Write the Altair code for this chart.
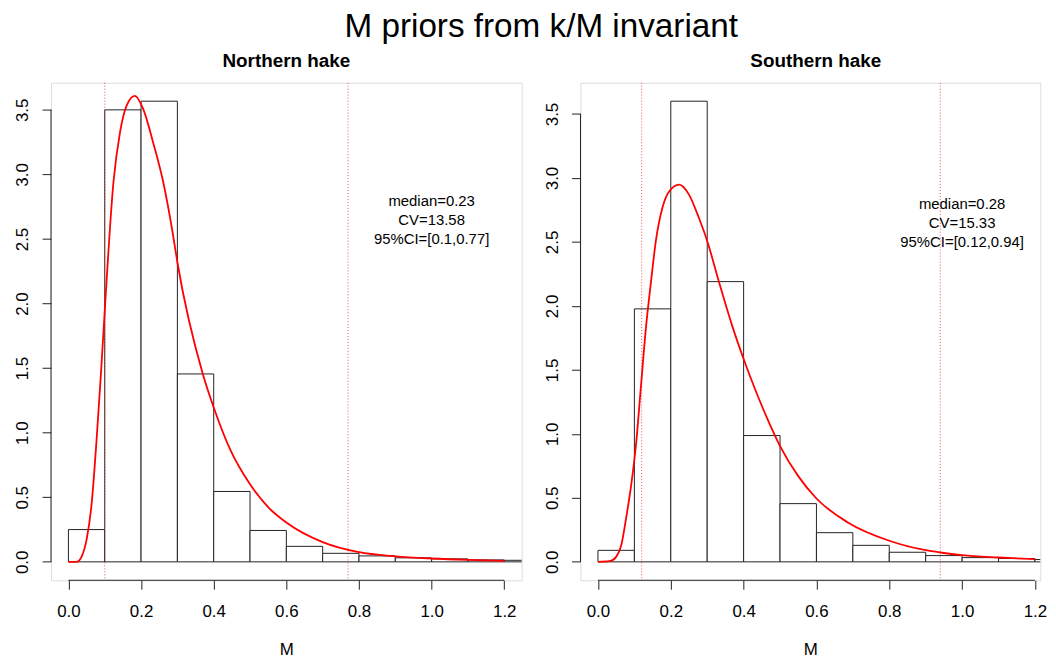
import altair as alt
import pandas as pd

# ---------------- data ----------------
bin_lo = [0.0, 0.1, 0.2, 0.3, 0.4, 0.5, 0.6, 0.7, 0.8, 0.9, 1.0, 1.1, 1.2]
bin_hi = [0.1, 0.2, 0.3, 0.4, 0.5, 0.6, 0.7, 0.8, 0.9, 1.0, 1.1, 1.2, 1.3]

north_density = [0.25, 3.50, 3.567, 1.455, 0.545, 0.243, 0.12, 0.066, 0.046, 0.031, 0.023, 0.015, 0.012]
south_density = [0.09, 1.977, 3.60, 2.19, 0.987, 0.455, 0.228, 0.129, 0.075, 0.049, 0.033, 0.026, 0.018]

north_curve_x = [0.0, 0.023, 0.037, 0.050, 0.064, 0.078, 0.090, 0.101, 0.124, 0.142, 0.160, 0.183,
                 0.206, 0.233, 0.261, 0.288, 0.300, 0.370, 0.402, 0.444, 0.500, 0.553, 0.600,
                 0.700, 0.800, 0.900, 1.0, 1.1, 1.2]
north_curve_y = [0.0, 0.0, 0.044, 0.172, 0.454, 0.967, 1.479, 1.992, 2.941, 3.326, 3.531, 3.608,
                 3.505, 3.249, 2.941, 2.531, 2.32, 1.455, 1.18, 0.878, 0.60, 0.415, 0.305,
                 0.153, 0.075, 0.043, 0.026, 0.015, 0.008]

south_curve_x = [0.0, 0.032, 0.050, 0.064, 0.077, 0.091, 0.105, 0.118, 0.132, 0.146, 0.159, 0.177,
                 0.196, 0.223, 0.250, 0.277, 0.300, 0.332, 0.368, 0.400, 0.432, 0.468, 0.500,
                 0.55, 0.60, 0.685, 0.80, 0.90, 0.94, 1.0, 1.1, 1.2]
south_curve_y = [0.0, 0.005, 0.039, 0.129, 0.336, 0.595, 0.931, 1.371, 1.836, 2.198, 2.508, 2.767,
                 2.896, 2.948, 2.870, 2.689, 2.508, 2.19, 1.85, 1.585, 1.345, 1.10, 0.905,
                 0.67, 0.495, 0.31, 0.165, 0.091, 0.073, 0.052, 0.034, 0.021]

north_ci = [0.1, 0.77]
south_ci = [0.12, 0.94]

north_text = ["median=0.23", "CV=13.58", "95%CI=[0.1,0.77]"]
south_text = ["median=0.28", "CV=15.33", "95%CI=[0.12,0.94]"]
text_x = [1.0, 1.0, 1.0]
text_y = [2.795, 2.648, 2.501]

x_ticks = [0.0, 0.2, 0.4, 0.6, 0.8, 1.0, 1.2]
y_ticks = [0.0, 0.5, 1.0, 1.5, 2.0, 2.5, 3.0, 3.5]

FONT = "Liberation Sans"
LINE = "#222222"


def panel(name, density, cx, cy, ci, texts, width, xmax, title_dx):
    ymax = max(density)
    ydom = [-0.04 * ymax, 1.04 * ymax]
    xdom = [-0.048, xmax]

    xs = alt.Scale(domain=xdom, nice=False, zero=False)
    ys = alt.Scale(domain=ydom, nice=False, zero=False)

    xaxis = alt.Axis(values=x_ticks, format=".1f", domain=False, grid=False,
                     tickSize=9, tickColor=LINE, tickWidth=1,
                     labelFont=FONT, labelFontSize=17, labelColor="black",
                     labelPadding=14, labelBaseline="top", labelFlush=False,
                     labelOverlap=False,
                     title="M", titleFont=FONT, titleFontSize=17,
                     titleFontWeight="normal", titleColor="black",
                     titleBaseline="alphabetic", titleY=75)
    yaxis = alt.Axis(values=y_ticks, format=".1f", domain=False, grid=False,
                     tickSize=9, tickColor=LINE, tickWidth=1,
                     labelFont=FONT, labelFontSize=17, labelColor="black",
                     labelAngle=-90, labelAlign="center", labelBaseline="alphabetic",
                     labelPadding=14.5, labelFlush=False, labelOverlap=False,
                     title="")

    bars_df = pd.DataFrame({"lo": bin_lo, "hi": bin_hi, "d": density,
                            "zero": [0.0] * len(bin_lo)})
    bars = alt.Chart(bars_df).mark_rect(
        fill="white", stroke=LINE, strokeWidth=1, clip=True
    ).encode(
        x=alt.X("lo:Q", scale=xs, axis=xaxis),
        x2="hi:Q",
        y=alt.Y("d:Q", scale=ys, axis=yaxis),
        y2="zero:Q",
    )

    curve_df = pd.DataFrame({"m": cx, "dens": cy})
    curve = alt.Chart(curve_df).mark_line(
        color="red", strokeWidth=1.8, interpolate="monotone", clip=True
    ).encode(x=alt.X("m:Q", scale=xs), y=alt.Y("dens:Q", scale=ys))

    ci_df = pd.DataFrame({"ci": ci})
    ci_rules = alt.Chart(ci_df).mark_rule(
        color="red", strokeWidth=1, strokeDash=[1, 2], opacity=0.7
    ).encode(x=alt.X("ci:Q", scale=xs))

    xline_df = pd.DataFrame({"a": [x_ticks[0]], "b": [x_ticks[-1]], "y": [ydom[0]]})
    xline = alt.Chart(xline_df).mark_rule(color=LINE, strokeWidth=1).encode(
        x=alt.X("a:Q", scale=xs), x2="b:Q", y=alt.Y("y:Q", scale=ys))

    yline_df = pd.DataFrame({"x": [xdom[0]], "a": [y_ticks[0]], "b": [y_ticks[-1]]})
    yline = alt.Chart(yline_df).mark_rule(color=LINE, strokeWidth=1).encode(
        x=alt.X("x:Q", scale=xs), y=alt.Y("a:Q", scale=ys), y2="b:Q")

    txt_df = pd.DataFrame({"tx": text_x, "ty": text_y, "label": texts})
    txt = alt.Chart(txt_df).mark_text(
        font=FONT, fontSize=15, color="black", align="center", baseline="middle"
    ).encode(x=alt.X("tx:Q", scale=xs), y=alt.Y("ty:Q", scale=ys), text="label:N")

    return alt.layer(bars, curve, ci_rules, xline, yline, txt).properties(
        width=width, height=501,
        title=alt.TitleParams(text=name, font=FONT, fontSize=19, fontWeight="bold",
                              color="black", anchor="middle", frame="group",
                              baseline="alphabetic", offset=0, dy=3.8, dx=title_dx),
    )


left = panel("Northern hake", north_density, north_curve_x, north_curve_y,
             north_ci, north_text, 474, 1.248, 0)
right = panel("Southern hake", south_density, south_curve_x, south_curve_y,
              south_ci, south_text, 463, 1.2146, 5.5)

chart = alt.hconcat(left, right, spacing=59.2, bounds="flush").properties(
    title=alt.TitleParams(text="M priors from k/M invariant", font=FONT, fontSize=33.5,
                          fontWeight="normal", color="black", anchor="middle",
                          frame="group", baseline="alphabetic", offset=0, dy=18.7,
                          dx=493.7),
    padding={"left": 5.3, "top": 0, "right": 0, "bottom": 0},
).configure_view(stroke="transparent").configure(background="white")

chart.save("out.html", embed_options={"renderer": "svg", "actions": False})
